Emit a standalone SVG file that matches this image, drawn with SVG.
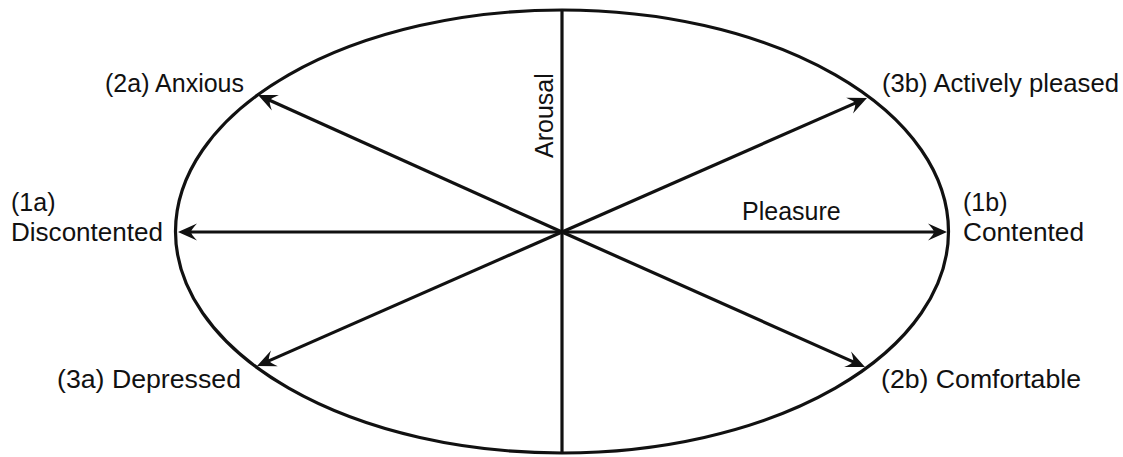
<svg xmlns="http://www.w3.org/2000/svg" width="1123" height="457" viewBox="0 0 1123 457">
  <style>
    .lbl { font-family: "Liberation Sans", Arial, sans-serif; font-size: 25px; fill: #111; }
    .ln { stroke: #111; stroke-width: 3.2; fill: none; }
    .arr { stroke: #111; stroke-width: 3.2; fill: none; marker-end: url(#ah); }
  </style>
  <defs>
    <marker id="ah" markerUnits="userSpaceOnUse" markerWidth="40" markerHeight="40" viewBox="-20 -20 40 40" refX="0" refY="0" orient="auto" overflow="visible">
      <path d="M6,0 L-13,-8.5 Q-7,-2 -7,0 Q-7,2 -13,8.5 Z" fill="#111"/>
    </marker>
  </defs>

  <g id="frame">
    <ellipse class="ln" cx="562" cy="231.5" rx="386.5" ry="221.5"/>
    <line class="ln" x1="562" y1="10" x2="562" y2="453"/>
  </g>

  <g id="connectors">
    <line class="arr" x1="562" y1="232" x2="184" y2="232"/>
    <line class="arr" x1="562" y1="232" x2="941" y2="232"/>
    <line class="arr" x1="562" y1="232" x2="263.5" y2="97.5"/>
    <line class="arr" x1="562" y1="232" x2="861.5" y2="100.4"/>
    <line class="arr" x1="562" y1="232" x2="262.5" y2="363.6"/>
    <line class="arr" x1="562" y1="232" x2="859.5" y2="364.6"/>
  </g>

  <g id="axis-arousal">
    <text class="lbl" transform="translate(553,158) rotate(-90)">Arousal</text>
  </g>
  <g id="axis-pleasure">
    <text class="lbl" x="742" y="220">Pleasure</text>
  </g>
  <g id="node-2a">
    <text class="lbl" x="244" y="92" text-anchor="end">(2a) Anxious</text>
  </g>
  <g id="node-3b">
    <text class="lbl" x="882" y="92" textLength="237" lengthAdjust="spacingAndGlyphs">(3b) Actively pleased</text>
  </g>
  <g id="node-1a">
    <text class="lbl" x="11" y="211">(1a)</text>
    <text class="lbl" x="11" y="241" textLength="152" lengthAdjust="spacingAndGlyphs">Discontented</text>
  </g>
  <g id="node-1b">
    <text class="lbl" x="963" y="211">(1b)</text>
    <text class="lbl" x="963" y="241" textLength="121" lengthAdjust="spacingAndGlyphs">Contented</text>
  </g>
  <g id="node-3a">
    <text class="lbl" x="57" y="388" textLength="184" lengthAdjust="spacingAndGlyphs">(3a) Depressed</text>
  </g>
  <g id="node-2b">
    <text class="lbl" x="881" y="388" textLength="200" lengthAdjust="spacingAndGlyphs">(2b) Comfortable</text>
  </g>
</svg>
